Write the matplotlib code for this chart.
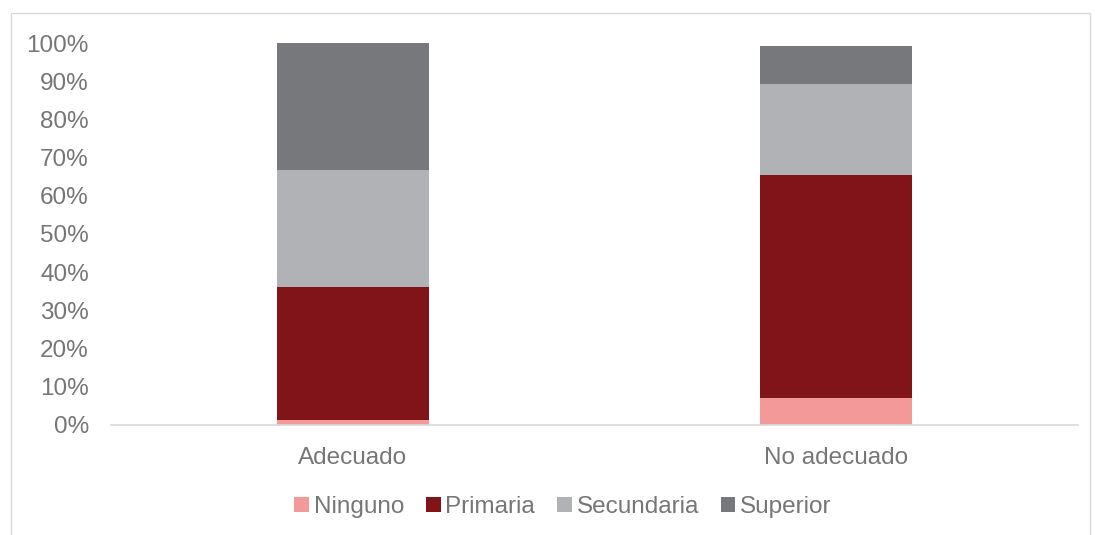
import matplotlib.pyplot as plt
import matplotlib.patches as mpatches
import numpy as np

plt.rcParams['font.family'] = ['Liberation Sans', 'DejaVu Sans']

categories = ["Adecuado", "No adecuado"]
series = ["Ninguno", "Primaria", "Secundaria", "Superior"]
ninguno = [1.1, 7.0]
primaria = [35.1, 58.5]
secundaria = [30.6, 23.9]
superior = [33.2, 9.9]

colors = ["#f4999a", "#801418", "#b1b2b5", "#77787b"]
text_col = "#767676"

fig = plt.figure(figsize=(10.95, 5.35), dpi=100)
ax = fig.add_axes([111/1095, 1 - 424.5/535, (1078 - 111)/1095, (424.5 - 43.3)/535])

x = np.arange(len(categories))
bottom = np.zeros(len(categories))
for name, vals, c in zip(series, [ninguno, primaria, secundaria, superior], colors):
    ax.bar(x, vals, width=0.315, bottom=bottom, color=c, label=name)
    bottom += np.array(vals)

ax.set_xlim(-0.5, 1.5)
ax.set_ylim(0, 100)
ax.set_yticks(np.arange(0, 101, 10))
ax.set_yticklabels([f"{v}%" for v in range(0, 101, 10)])
ax.set_xticks(x)
ax.set_xticklabels(categories)
ax.tick_params(axis='both', length=0, labelsize=17.5, colors=text_col)
ax.tick_params(axis='y', pad=16)
ax.tick_params(axis='x', pad=16)
for s in ["top", "right", "left"]:
    ax.spines[s].set_visible(False)
ax.spines["bottom"].set_color("#d9d9d9")
ax.spines["bottom"].set_linewidth(1.2)

fig.legend(loc="center", bbox_to_anchor=(563/1095, 1 - 507/535), ncol=4,
           frameon=False, fontsize=17.5, handlelength=0.6, handleheight=0.6,
           handletextpad=0.2, columnspacing=0.9, labelcolor=text_col)

# outer chart border
fig.patches.append(mpatches.Rectangle((11/1095, -0.05), (1090 - 11)/1095, 1.05 - 13/535,
                                      transform=fig.transFigure, fill=False,
                                      edgecolor="#d9d9d9", linewidth=1))

fig.savefig("out.png", dpi=100)
